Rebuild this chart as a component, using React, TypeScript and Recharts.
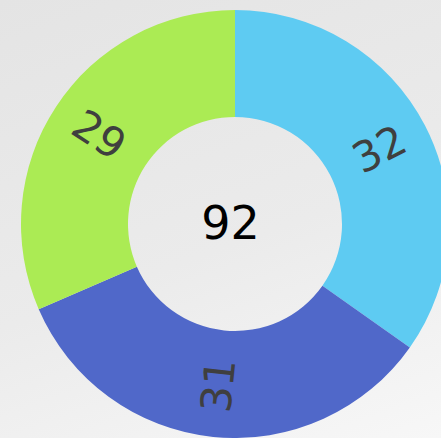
import { PieChart, Pie, Cell, Label } from "recharts";

const segmentNames = ["A", "B", "C"];
const segmentValues = [32, 31, 29];
const segmentColors = ["#5ecbf2", "#5068c9", "#abeb54"];

const data = segmentNames.map((name, i) => ({ name, value: segmentValues[i] }));
const total = segmentValues.reduce((s, v) => s + v, 0);

const RADIAN = Math.PI / 180;

function renderSliceLabel(props: any) {
  const { cx, cy, midAngle, innerRadius, outerRadius, value } = props;
  const r = (innerRadius + outerRadius) / 2 + 2;
  const x = cx + r * Math.cos(-midAngle * RADIAN);
  const y = cy + r * Math.sin(-midAngle * RADIAN);
  // radial rotation, flipped so the text never reads upside down
  let rot = -midAngle;
  while (rot > 90) rot -= 180;
  while (rot <= -90) rot += 180;
  return (
    <text
      x={x}
      y={y}
      fill="#3f3f3f"
      fontSize={42}
      fontFamily="DejaVu Sans, sans-serif"
      textAnchor="middle"
      dominantBaseline="central"
      transform={`rotate(${rot} ${x} ${y})`}
    >
      {value}
    </text>
  );
}

export default function App() {
  return (
    <div
      style={{
        position: "fixed",
        left: 0,
        top: 0,
        width: 441,
        height: 438,
        overflow: "hidden",
        background: "linear-gradient(160deg, #e4e4e4 0%, #ebebeb 55%, #f7f7f7 100%)",
      }}
    >
      <PieChart width={441} height={438} margin={{ top: 0, right: 0, bottom: 0, left: 0 }}>
        <Pie
          data={data}
          dataKey="value"
          cx={235}
          cy={224}
          innerRadius={107}
          outerRadius={214}
          startAngle={90}
          endAngle={-270}
          stroke="none"
          label={renderSliceLabel}
          labelLine={false}
          isAnimationActive={false}
        >
          {data.map((d, i) => (
            <Cell key={d.name} fill={segmentColors[i]} />
          ))}
          <Label
            value={String(total)}
            position="center"
            fill="#000"
            fontSize={46}
            fontFamily="DejaVu Sans, sans-serif"
            dx={10}
            dy={4}
          />
        </Pie>
      </PieChart>
    </div>
  );
}
